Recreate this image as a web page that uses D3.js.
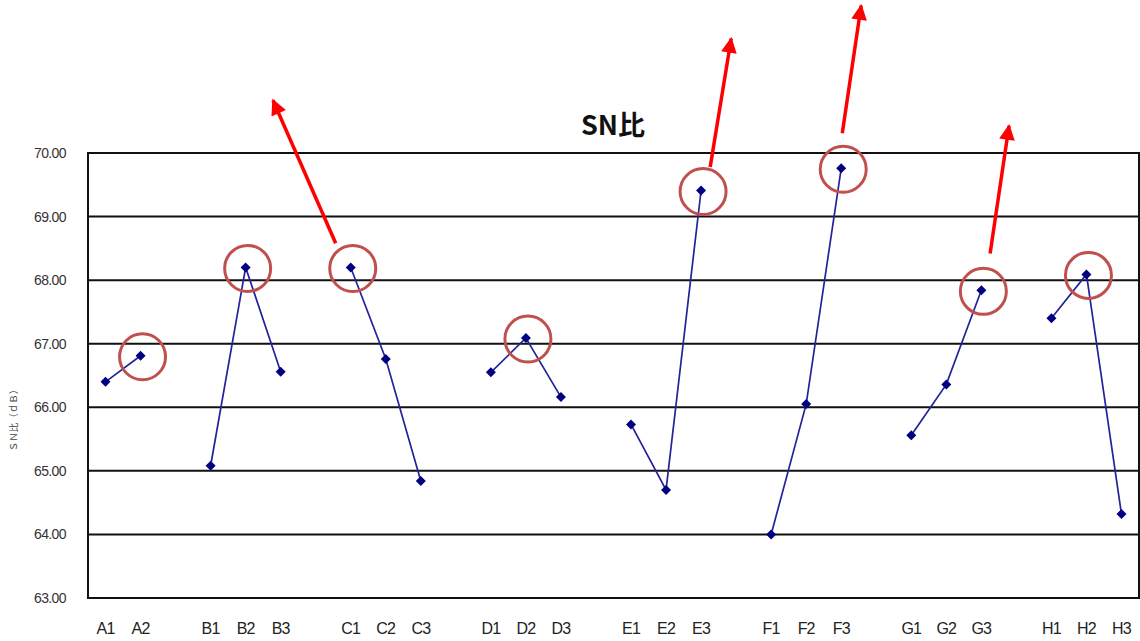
<!DOCTYPE html>
<html>
<head>
<meta charset="utf-8">
<script src="https://cdn.jsdelivr.net/npm/d3@7"></script>
<style>
  body { margin: 0; background: #fff; }
  svg { display: block; }
</style>
</head>
<body>
<script>
// factor groups, one slot per level, an empty slot between groups
const groups = ['A', 'B', 'C', 'D', 'E', 'F', 'G', 'H'];
const levels = [
    ['A1', 'A2'],
    ['B1', 'B2', 'B3'],
    ['C1', 'C2', 'C3'],
    ['D1', 'D2', 'D3'],
    ['E1', 'E2', 'E3'],
    ['F1', 'F2', 'F3'],
    ['G1', 'G2', 'G3'],
    ['H1', 'H2', 'H3']
];
const snValues = [
    [66.40, 66.81],
    [65.08, 68.20, 66.56],
    [68.20, 66.76, 64.84],
    [66.55, 67.09, 66.16],
    [65.73, 64.70, 69.41],
    [64.00, 66.05, 69.76],
    [65.56, 66.36, 67.84],
    [67.40, 68.09, 64.32]
];
const yTicks = [63, 64, 65, 66, 67, 68, 69, 70];
// red arrows: start/end given in slot units (x) and SN values (y)
const arrows = [
    { x1: 7.07, y1: 68.58, x2: 5.28, y2: 70.83 },
    { x1: 17.76, y1: 69.78, x2: 18.36, y2: 71.80 },
    { x1: 21.53, y1: 70.31, x2: 22.07, y2: 72.32 },
    { x1: 25.75, y1: 68.42, x2: 26.29, y2: 70.43 }
];

const width = 1140;
const height = 641;
const margin = { top: 153, right: 1, bottom: 43, left: 88 };

const svg = d3.select('body').append('svg')
    .attr('width', width)
    .attr('height', height);

// build slot list with gaps
const slots = [];
levels.forEach((lv, gi) => {
    if (gi > 0) slots.push('gap' + gi);
    lv.forEach(l => slots.push(l));
});
const points = [];
levels.forEach((lv, gi) => {
    lv.forEach((l, li) => points.push({ group: groups[gi], level: l, value: snValues[gi][li] }));
});

const x = d3.scaleBand()
    .domain(slots)
    .range([margin.left, width - margin.right])
    .padding(0);
const xSlot = d3.scaleLinear()
    .domain([0, slots.length])
    .range([margin.left, width - margin.right]);
const y = d3.scaleLinear()
    .domain([63, 70])
    .range([height - margin.bottom, margin.top]);
const cx = l => x(l) + x.bandwidth() / 2;

// gridlines
svg.append('g')
    .selectAll('line')
    .data(yTicks)
    .enter().append('line')
    .attr('x1', margin.left)
    .attr('x2', width - margin.right)
    .attr('y1', d => y(d))
    .attr('y2', d => y(d))
    .attr('stroke', '#111')
    .attr('stroke-width', 2);

// plot border
svg.append('rect')
    .attr('x', margin.left)
    .attr('y', y(70))
    .attr('width', width - margin.right - margin.left)
    .attr('height', y(63) - y(70))
    .attr('fill', 'none')
    .attr('stroke', '#111')
    .attr('stroke-width', 2);

// y tick labels
svg.append('g')
    .selectAll('text')
    .data(yTicks)
    .enter().append('text')
    .attr('x', 66)
    .attr('y', d => y(d) + 5)
    .attr('text-anchor', 'end')
    .attr('font-family', 'Liberation Sans, Arial, sans-serif')
    .attr('font-size', 14)
    .attr('letter-spacing', -0.6)
    .attr('fill', '#333')
    .text(d => d.toFixed(2));

// y axis title
svg.append('text')
    .attr('transform', 'translate(17,418) rotate(-90)')
    .attr('text-anchor', 'middle')
    .attr('font-family', 'Noto Sans CJK JP, sans-serif')
    .attr('font-size', 9.5)
    .attr('fill', '#444')
    .text('ＳＮ比（ｄＢ）');

// x labels
svg.append('g')
    .selectAll('text')
    .data(points)
    .enter().append('text')
    .attr('x', d => cx(d.level))
    .attr('y', 634)
    .attr('text-anchor', 'middle')
    .attr('font-family', 'Liberation Sans, Arial, sans-serif')
    .attr('font-size', 16)
    .attr('letter-spacing', -0.8)
    .attr('fill', '#222')
    .text(d => d.level);

// title
svg.append('text')
    .attr('x', 613)
    .attr('y', 135)
    .attr('text-anchor', 'middle')
    .attr('font-family', 'Noto Sans CJK JP, sans-serif')
    .attr('font-weight', 'bold')
    .attr('font-size', 27)
    .attr('fill', '#111')
    .text('SN比');

// lines per group
const line = d3.line()
    .x(d => cx(d.level))
    .y(d => y(d.value));
svg.append('g')
    .selectAll('path')
    .data(groups.map(g => points.filter(p => p.group === g)))
    .enter().append('path')
    .attr('d', line)
    .attr('fill', 'none')
    .attr('stroke', '#23239a')
    .attr('stroke-width', 1.7);

// diamond markers (rotated squares)
svg.append('g')
    .selectAll('path')
    .data(points)
    .enter().append('path')
    .attr('transform', d => `translate(${cx(d.level)},${y(d.value)}) rotate(45)`)
    .attr('d', d3.symbol().type(d3.symbolSquare).size(50))
    .attr('fill', '#000080');

// circles around best level of each factor
const best = groups.map(g => {
    const ps = points.filter(p => p.group === g);
    return ps.reduce((a, b) => (b.value > a.value ? b : a));
});
svg.append('g')
    .selectAll('circle')
    .data(best)
    .enter().append('circle')
    .attr('cx', d => cx(d.level) + 2)
    .attr('cy', d => y(d.value) + 1)
    .attr('r', 23)
    .attr('fill', 'none')
    .attr('stroke', '#c0504d')
    .attr('stroke-width', 3);

// red arrows
svg.append('defs').append('marker')
    .attr('id', 'head')
    .attr('viewBox', '0 0 10 10')
    .attr('refX', 9)
    .attr('refY', 5)
    .attr('markerWidth', 5.5)
    .attr('markerHeight', 4.5)
    .attr('orient', 'auto')
    .append('path')
    .attr('d', 'M0,0 L10,5 L0,10 z')
    .attr('fill', '#ff0000');

svg.append('g')
    .selectAll('line')
    .data(arrows)
    .enter().append('line')
    .attr('x1', d => xSlot(d.x1))
    .attr('y1', d => y(d.y1))
    .attr('x2', d => xSlot(d.x2))
    .attr('y2', d => y(d.y2))
    .attr('stroke', '#ff0000')
    .attr('stroke-width', 3.5)
    .attr('marker-end', 'url(#head)');
</script>
</body>
</html>
